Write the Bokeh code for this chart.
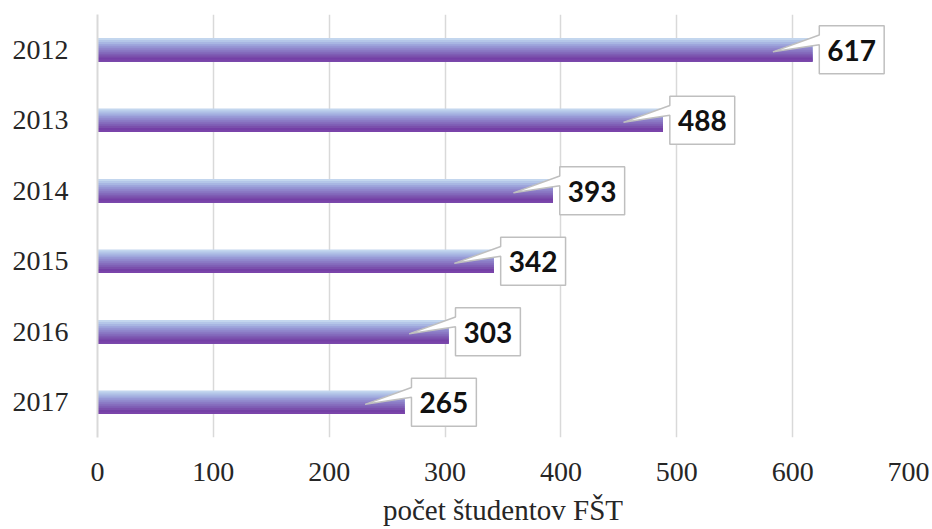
from bokeh.plotting import figure
from bokeh.models import ColumnDataSource, FixedTicker, Range1d
from bokeh.core.properties import value
from bokeh.embed import file_html
from bokeh.resources import INLINE

# ---- data ----
years = ["2012", "2013", "2014", "2015", "2016", "2017"]
students = [617, 488, 393, 342, 303, 265]
x_ticks = [0, 100, 200, 300, 400, 500, 600, 700]
x_label = "počet študentov FŠT"

# ---- style ----
grad = ["#c3d6ee", "#b4c6e8", "#a8b6e2", "#9ea6dc", "#9696d4", "#9087cc",
        "#8a79c4", "#846bbc", "#7e5db4", "#7a50ac", "#7440a6", "#7a44aa"]
bar_h = 0.33
grid_col = "#d9d9d9"

p = figure(width=932, height=529, output_backend="svg", toolbar_location=None,
           x_range=Range1d(0, 700), y_range=Range1d(5.5, -0.5),
           min_border_left=97, min_border_right=24, min_border_top=14,
           min_border_bottom=92)
p.outline_line_color = None
p.background_fill_color = "white"
p.border_fill_color = "white"

# gradient bars built from stacked slices (each slice runs to the bar bottom)
tops, bots, rs, cs = [], [], [], []
n = len(grad)
for i, v in enumerate(students):
    for k in range(n):
        tops.append(i - bar_h / 2 + k * bar_h / n)
        bots.append(i + bar_h / 2)
        rs.append(v)
        cs.append(grad[k])
p.quad(left=0, right="r", top="t", bottom="b", color="c", line_color=None,
       source=ColumnDataSource(dict(t=tops, b=bots, r=rs, c=cs)))

# callouts
xs_p, ys_p, tx, ty, tt = [], [], [], [], []
for i, v in enumerate(students):
    L, R = v + 6, v + 62
    top, bot = i - 0.34, i + 0.34
    b1, b2 = i - 0.21, i - 0.07
    tip_x, tip_y = v - 34, i + 0.03
    xs_p.append([L, R, R, L, L, tip_x, L])
    ys_p.append([top, top, bot, bot, b2, tip_y, b1])
    tx.append((L + R) / 2)
    ty.append(i + 0.01)
    tt.append(str(v))
p.patches(xs="xs", ys="ys", fill_color="white", line_color="#bfbfbf", line_width=1.5,
          source=ColumnDataSource(dict(xs=xs_p, ys=ys_p)))
p.text(x="x", y="y", text="t", source=ColumnDataSource(dict(x=tx, y=ty, t=tt)),
       text_align="center", text_baseline="middle", text_font=value("Lato"),
       text_font_style="bold", text_font_size="28px", text_color="#111111")

# axes
p.xaxis.ticker = FixedTicker(ticks=x_ticks)
p.yaxis.ticker = FixedTicker(ticks=list(range(len(years))))
p.yaxis.major_label_overrides = {i: y for i, y in enumerate(years)}
for ax in (p.xaxis[0], p.yaxis[0]):
    ax.major_tick_line_color = None
    ax.minor_tick_line_color = None
    ax.major_label_text_font = "Liberation Serif"
    ax.major_label_text_font_size = "28px"
    ax.major_label_text_color = "#262626"
p.xaxis.axis_line_color = None
p.yaxis.axis_line_color = grid_col
p.yaxis.axis_line_width = 2
p.yaxis.major_label_standoff = 23
p.xaxis.major_label_standoff = 19
p.xaxis.axis_label = x_label
p.xaxis.axis_label_text_font = "Liberation Serif"
p.xaxis.axis_label_text_font_size = "29px"
p.xaxis.axis_label_text_font_style = "normal"
p.xaxis.axis_label_text_color = "#262626"
p.xaxis.axis_label_standoff = 10
p.xgrid.grid_line_color = grid_col
p.xgrid.grid_line_width = 1.5
p.ygrid.grid_line_color = None

open("out.html", "w").write(file_html(p, INLINE))
